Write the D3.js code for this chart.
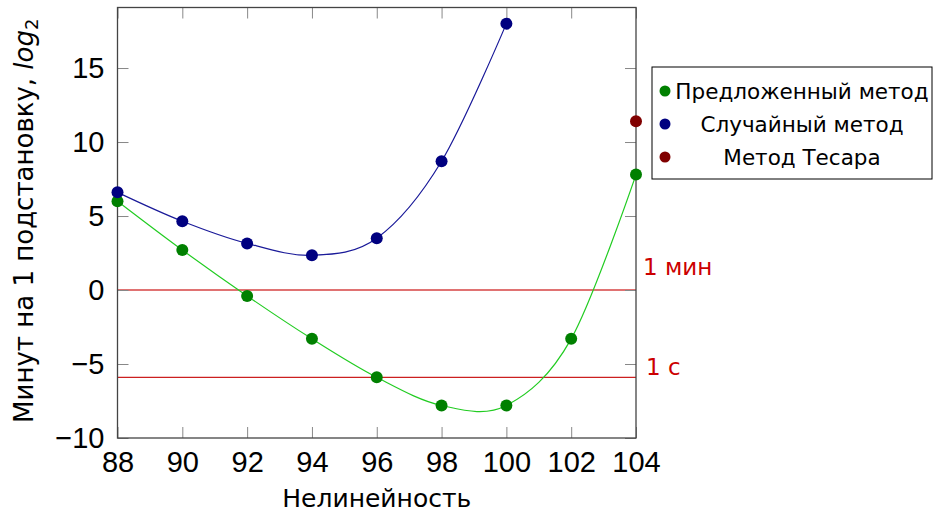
<!DOCTYPE html>
<html>
<head>
<meta charset="utf-8">
<script src="https://cdn.jsdelivr.net/npm/d3@7"></script>
<style>
  html, body { margin: 0; padding: 0; background: #fff; }
  svg { display: block; font-family: "DejaVu Sans", sans-serif; }
</style>
</head>
<body>
<div id="chart"></div>
<script>
// data
const xTicks = [88, 90, 92, 94, 96, 98, 100, 102, 104];
const yTicks = [-10, -5, 0, 5, 10, 15];

const proposedX = [88, 90, 92, 94, 96, 98, 100, 102, 104];
const proposedY = [6.0, 2.7, -0.4, -3.3, -5.9, -7.8, -7.8, -3.3, 7.8];

const randomX = [88, 90, 92, 94, 96, 98, 100];
const randomY = [6.6, 4.65, 3.15, 2.35, 3.5, 8.7, 18.0];

const tesarX = [104];
const tesarY = [11.4];

const limitValues = [0, -5.91];
const limitLabels = ['1 мин', '1 с'];

const legendLabels = ['Предложенный метод', 'Случайный метод', 'Метод Тесара'];
const legendColors = ['#008000', '#000080', '#800000'];

const width = 933, height = 512;
const margin = { top: 7.5, right: 297, bottom: 74, left: 117.5 };
const w = width - margin.left - margin.right;
const h = height - margin.top - margin.bottom;
const tickFont = '"Liberation Sans", Arial, sans-serif';

const svg = d3.select('#chart').append('svg')
  .attr('width', width).attr('height', height);

const x = d3.scaleLinear().domain([88, 104]).range([0, w]);
const y = d3.scaleLinear().domain([-10, 19.09]).range([h, 0]);

const g = svg.append('g').attr('transform', `translate(${margin.left},${margin.top})`);

svg.append('defs').append('clipPath').attr('id', 'plot-clip')
  .append('rect').attr('width', w).attr('height', h);

// limit lines (1 min / 1 s)
g.append('line')
  .attr('x1', 0).attr('x2', w)
  .attr('y1', y(limitValues[0])).attr('y2', y(limitValues[0]))
  .attr('stroke', '#e07272').attr('stroke-width', 2);
g.append('line')
  .attr('x1', 0).attr('x2', w)
  .attr('y1', y(limitValues[1])).attr('y2', y(limitValues[1]))
  .attr('stroke', '#cc2020').attr('stroke-width', 1.3);

// ticks on all four sides, pointing inwards
const tickLen = 11;
const tickColor = '#888';
g.append('g').attr('transform', `translate(0,${h})`)
  .call(d3.axisBottom(x).tickValues(xTicks).tickSize(-tickLen).tickFormat(d3.format('d')).tickPadding(13))
  .call(a => a.select('.domain').remove())
  .call(a => a.selectAll('line').attr('stroke', tickColor))
  .call(a => a.selectAll('text').attr('font-size', 29).attr('fill', '#000').attr('font-family', tickFont));
g.append('g')
  .call(d3.axisTop(x).tickValues(xTicks).tickSize(-tickLen).tickFormat(''))
  .call(a => a.select('.domain').remove())
  .call(a => a.selectAll('line').attr('stroke', tickColor));
g.append('g')
  .call(d3.axisLeft(y).tickValues(yTicks).tickSize(-tickLen).tickPadding(13))
  .call(a => a.select('.domain').remove())
  .call(a => a.selectAll('line').attr('stroke', tickColor))
  .call(a => a.selectAll('text').attr('font-size', 29).attr('fill', '#000').attr('font-family', tickFont));
g.append('g').attr('transform', `translate(${w},0)`)
  .call(d3.axisRight(y).tickValues(yTicks).tickSize(-tickLen).tickFormat(''))
  .call(a => a.select('.domain').remove())
  .call(a => a.selectAll('line').attr('stroke', tickColor));

// smooth series lines
const line = d3.line()
  .x(d => x(d[0])).y(d => y(d[1]))
  .curve(d3.curveCardinal.tension(0));

const plot = g.append('g').attr('clip-path', 'url(#plot-clip)');
plot.append('path')
  .datum(d3.zip(proposedX, proposedY))
  .attr('fill', 'none').attr('stroke', '#22cc22').attr('stroke-width', 1.2)
  .attr('d', line);
plot.append('path')
  .datum(d3.zip(randomX, randomY))
  .attr('fill', 'none').attr('stroke', '#1a1a99').attr('stroke-width', 1.2)
  .attr('d', line);

// frame
g.append('rect')
  .attr('width', w).attr('height', h)
  .attr('fill', 'none').attr('stroke', '#444').attr('stroke-width', 1.3);

// markers
const series = [
  { xs: proposedX, ys: proposedY, color: legendColors[0] },
  { xs: randomX, ys: randomY, color: legendColors[1] },
  { xs: tesarX, ys: tesarY, color: legendColors[2] }
];
series.forEach(s => {
  g.selectAll(null)
    .data(d3.zip(s.xs, s.ys))
    .join('circle')
    .attr('cx', d => x(d[0])).attr('cy', d => y(d[1]))
    .attr('r', 6).attr('fill', s.color);
});

// limit labels
g.selectAll('text.limit')
  .data(limitLabels)
  .join('text')
  .attr('class', 'limit')
  .attr('x', (d, i) => w + (i === 0 ? 7 : 10))
  .attr('y', (d, i) => y(limitValues[i]) + (i === 0 ? -15 : -2))
  .attr('font-size', 23).attr('fill', '#cc0000')
  .text(d => d);

// axis titles
svg.append('text')
  .attr('x', margin.left + w / 2).attr('y', 507)
  .attr('text-anchor', 'middle').attr('font-size', 25)
  .text('Нелинейность');

const yt = svg.append('text')
  .attr('transform', `translate(33,${margin.top + h / 2 - 2}) rotate(-90)`)
  .attr('text-anchor', 'middle').attr('font-size', 26);
yt.append('tspan').text('Минут на 1 подстановку, ');
yt.append('tspan').attr('font-style', 'italic').text('log');
yt.append('tspan').attr('font-size', 18).attr('dy', 5).text('2');

// legend
const lg = svg.append('g').attr('transform', 'translate(652,67)');
lg.append('rect')
  .attr('width', 280).attr('height', 112)
  .attr('fill', '#fff').attr('stroke', '#000').attr('stroke-width', 1);
const rows = lg.selectAll('g.row')
  .data(legendLabels)
  .join('g')
  .attr('class', 'row')
  .attr('transform', (d, i) => `translate(0,${24 + i * 33})`);
rows.append('circle')
  .attr('cx', 13).attr('cy', 0).attr('r', 5.5)
  .attr('fill', (d, i) => legendColors[i]);
rows.append('text')
  .attr('x', 150).attr('y', 8)
  .attr('text-anchor', 'middle').attr('font-size', 21.5)
  .text(d => d);
</script>
</body>
</html>
